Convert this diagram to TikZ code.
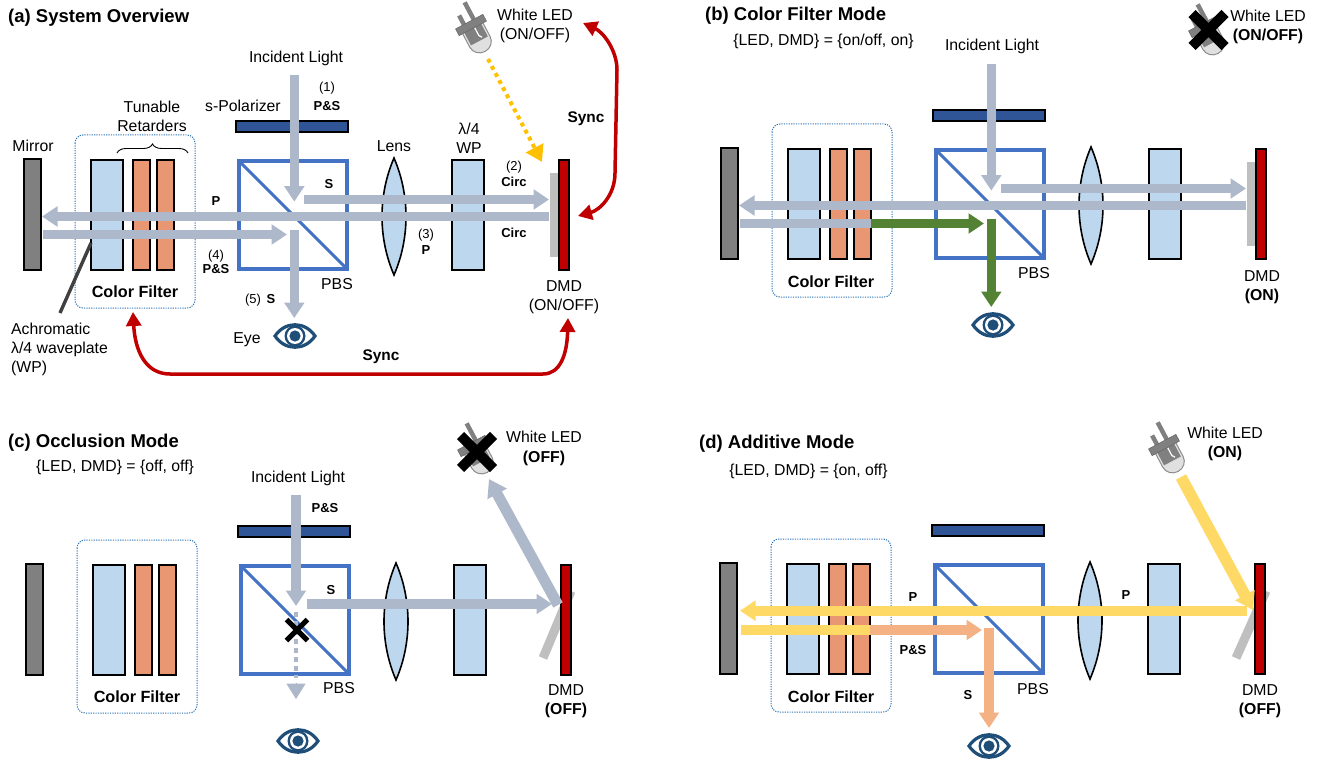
\documentclass[tikz,border=0pt]{standalone}
\usepackage{fontspec}
\setmainfont{Liberation Sans}
\usetikzlibrary{arrows.meta,decorations.pathreplacing}
\definecolor{beamgray}{HTML}{ADB9CA}
\definecolor{beamgreen}{HTML}{548235}
\definecolor{beamyellow}{HTML}{FFD966}
\definecolor{beamorange}{HTML}{F4B183}
\definecolor{ledyellow}{HTML}{FFC000}
\definecolor{syncred}{HTML}{C00000}
\definecolor{wpblue}{HTML}{BDD7EE}
\definecolor{retarder}{HTML}{E99773}
\definecolor{mirrorgray}{HTML}{808080}
\definecolor{flipgray}{HTML}{BFBFBF}
\definecolor{pbsblue}{HTML}{4472C4}
\definecolor{polblue}{HTML}{2F5597}
\definecolor{boxblue}{HTML}{2E75B6}
\definecolor{eyeblue}{HTML}{1F4E79}
\tikzset{
  x=1pt,y=-1pt,
  part/.style={draw=black,line width=1.6pt},
  fatbeam/.style={line width=9.6pt,-{Triangle[length=15.5pt 0 0,width=19.5pt 0 0]}},
  plainbeam/.style={line width=9.6pt},
  slantbeam/.style={line width=10.8pt,-{Triangle[length=17pt 0 0,width=21pt 0 0]}},
  syncline/.style={draw=syncred,line width=3.5pt},
  txt/.style={inner sep=0pt,align=center,font=\fontsize{15.8}{19.3}\selectfont},
  txtleft/.style={inner sep=0pt,align=left,font=\fontsize{15.8}{19}\selectfont},
  ttl/.style={inner sep=0pt,anchor=base west,font=\fontsize{18.5}{22}\selectfont\bfseries},
  cfl/.style={inner sep=0pt,font=\fontsize{16.2}{19}\selectfont\bfseries},
  num/.style={inner sep=0pt,align=center,font=\fontsize{13}{15}\selectfont},
  pol/.style={inner sep=0pt,align=center,font=\fontsize{13}{15}\selectfont\bfseries},
  syn/.style={inner sep=0pt,font=\fontsize{15.4}{18}\selectfont\bfseries},
  eqn/.style={inner sep=0pt,font=\fontsize{15.8}{18}\selectfont},
}
% optical train, in the coordinates of panel (a)
\newcommand{\optics}{%
  \draw[part,fill=mirrorgray] (24,159) rectangle (41,270);
  \draw[draw=boxblue,line width=1pt,dash pattern=on 1.2pt off 1.2pt,rounded corners=8pt] (75,135) rectangle (195,308);
  \draw[part,fill=wpblue] (91,160) rectangle (123,270);
  \draw[part,fill=retarder] (133,160) rectangle (150,270);
  \draw[part,fill=retarder] (157,160) rectangle (174,270);
  \draw[draw=pbsblue,line width=3.5pt] (239,161) rectangle (347,269);
  \draw[draw=pbsblue,line width=3pt] (239,161) -- (347,269);
  \draw[part,fill=wpblue!60!white,draw=none] (0,0) -- (0,0);
  \draw[part,fill=polblue] (236,121) rectangle (348,132);
  \draw[part,fill=wpblue] (394,158) .. controls (378,195) and (378,238) .. (394,275) .. controls (410,238) and (410,195) .. (394,158) -- cycle;
  \draw[part,fill=wpblue] (452,160) rectangle (484,270);
  \draw[part,fill=syncred] (559,160) rectangle (569,270);
}
\newcommand{\flatflip}{\fill[flipgray] (550,173) rectangle (559,257);}
% LED lamp: origin on the collar
\newcommand{\lamp}[2]{%
  \begin{scope}[shift={(#1,#2)},rotate=28]
    \draw[draw=mirrorgray,line width=4.5pt] (5,0) -- (5,-23);
    \draw[draw=mirrorgray,line width=4.5pt] (-6,0) -- (-6,-14);
    \path[fill=black!12,draw=black!45,line width=1pt] (-11.5,3) -- (-11.5,19) arc[start angle=180,end angle=360,x radius=11.5,y radius=-11] -- (11.5,3) -- cycle;
    \fill[mirrorgray] (-9.5,3) -- (-9.5,18) -- (9.5,18) -- (9.5,3) -- cycle;
    \draw[draw=white,line width=1.2pt] (2,4) -- (2,13) -- (4,16);
    \draw[fill=mirrorgray,draw=black!60,line width=0.5pt] (-15.5,-3.8) rectangle (15.5,3.8);
  \end{scope}}
\newcommand{\eye}[2]{%
  \begin{scope}[shift={(#1,#2)}]
    \draw[draw=eyeblue,line width=3.2pt,fill=white] (-20,0) .. controls (-10,-15) and (10,-15) .. (20,0) .. controls (10,15) and (-10,15) .. (-20,0) -- cycle;
    \fill[eyeblue] (0,0) circle[radius=10.5];
    \fill[white] (0,0) circle[radius=8];
    \fill[eyeblue] (0,0) circle[radius=5.6];
  \end{scope}}
\newcommand{\crossout}[4]{\draw[line width=#4pt,draw=black] (#1-#3,#2-#3) -- (#1+#3,#2+#3) (#1+#3,#2-#3) -- (#1-#3,#2+#3);}
\begin{document}
\begin{tikzpicture}
\useasboundingbox (0,0) rectangle (1323,762);
% ---------- panel (a)
\flatflip
\optics
\lamp{471}{25}
\eye{295}{336}
\draw[draw=black,line width=0.9pt,decorate,decoration={brace,amplitude=9pt}] (117,153) -- (188,153);
\draw[draw=black!75,line width=3.4pt] (91,243) -- (60,313);
\draw[beamgray,fatbeam] (294.3,75) -- (294.3,201.6);
\draw[beamgray,fatbeam] (304,199.5) -- (549,199.5);
\draw[beamgray,fatbeam] (549,216.5) -- (42,216.5);
\draw[beamgray,fatbeam] (43,234.5) -- (287,234.5);
\draw[beamgray,fatbeam] (294.3,230) -- (294.3,318);
\draw[ledyellow,line width=4pt,dash pattern=on 4pt off 4pt,-{Triangle[length=16pt 0 0,width=19pt 0 0]}] (488,59) -- (542,162);
\draw[syncline,{Triangle[length=14pt 0 0,width=15pt 0 0]}-{Triangle[length=14pt 0 0,width=15pt 0 0]}] (583,23) .. controls (603,32) and (617,50) .. (617,70) -- (615,173) .. controls (615,195) and (600,210) .. (578,216);
\draw[syncline,{Triangle[length=14pt 0 0,width=15pt 0 0]}-{Triangle[length=14pt 0 0,width=15pt 0 0]}] (133,312) .. controls (135,350) and (145,374) .. (170,374) -- (543,374) .. controls (560,374) and (567,355) .. (568,318);
\node[ttl] (atitle) at (8,22.5) {(a) System Overview};
\node[txt] (aincident) at (296,58) {Incident Light};
\node[num] (a1) at (327,88) {(1)};
\node[pol] (aps) at (327,106) {P\&S};
\node[txt] (apolarizer) at (243,106) {s-Polarizer};
\node[txt] (aretarders) at (152,116.5) {Tunable\\Retarders};
\node[txt] (amirror) at (33,146) {Mirror};
\node[pol] (ap) at (216,201) {P};
\node[pol] (as) at (329,184) {S};
\node[num] (a2) at (514,167) {(2)};
\node[pol] (acirc) at (514,182) {Circ};
\node[pol] (acircb) at (514,233) {Circ};
\node[num] (a3) at (426,235) {(3)};
\node[pol] (ap3) at (426,250) {P};
\node[txt] (awp) at (469,138.5) {λ/4\\WP};
\node[txt] (alens) at (394,146) {Lens};
\node[txt] (aled) at (535,26) {White LED\\(ON/OFF)};
\node[syn] (async) at (586,119) {Sync};
\node[txt] (admd) at (564,297) {DMD\\(ON/OFF)};
\node[syn] (asyncb) at (381,357) {Sync};
\node[num] (a4) at (216,256) {(4)};
\node[pol] (aps4) at (216,269) {P\&S};
\node[num] (a5) at (253,300) {(5)};
\node[pol] (as5) at (271,299.5) {S};
\node[txt] (apbs) at (337,284) {PBS};
\node[txt] (aeye) at (247,340) {Eye};
\node[cfl] (acf) at (135,292) {Color Filter};
\node[txtleft,anchor=west] (awpl) at (11,349) {Achromatic\\λ/4 waveplate\\(WP)};
% ---------- panel (b)
\begin{scope}[shift={(697,-11)}]
\flatflip
\optics
\draw[beamgray,fatbeam] (294.3,75) -- (294.3,201.6);
\draw[beamgray,fatbeam] (304,199.5) -- (549,199.5);
\draw[beamgray,fatbeam] (549,216.5) -- (42,216.5);
\draw[beamgray,plainbeam] (43,234.5) -- (174.5,234.5);
\draw[beamgreen,fatbeam] (174,234.5) -- (287,234.5);
\draw[beamgreen,fatbeam] (294.3,230) -- (294.3,318);
\end{scope}
\lamp{1204}{27}
\crossout{1208.5}{30}{16.5}{10}
\eye{993}{325}
\node[ttl] (btitle) at (705,20.5) {(b) Color Filter Mode};
\node[eqn] (beq) at (823.5,41) {\{LED, DMD\} = \{on/off, on\}};
\node[txt] (bincident) at (992,46) {Incident Light};
\node[txt] (bled) at (1268,27) {White LED\\\textbf{(ON/OFF)}};
\node[txt] (bdmd) at (1262,287) {DMD\\\textbf{(ON)}};
\node[txt] (bpbs) at (1034,273) {PBS};
\node[cfl] (bcf) at (831,281.5) {Color Filter};
% ---------- panel (c)
\draw[flipgray,line width=9pt] (543,658) -- (571,591);
\begin{scope}[shift={(2,405)}]
\optics
\end{scope}
\lamp{473}{446}
\crossout{477}{452}{16.5}{10}
\eye{298}{741}
\draw[beamgray,fatbeam] (296,495) -- (296,606);
\draw[beamgray,fatbeam] (307,604) -- (552,604);
\draw[beamgray,slantbeam] (558,605) -- (489,479);
\draw[beamgray,line width=4.5pt,dash pattern=on 4.5pt off 4.5pt] (296,612) -- (296,678);
\draw[beamgray,fatbeam,line width=0pt] (296,683) -- (296,699);
\crossout{297}{630}{10.5}{5}
\node[ttl] (ctitle) at (8,447) {(c) Occlusion Mode};
\node[eqn] (ceq) at (115,467) {\{LED, DMD\} = \{off, off\}};
\node[txt] (cincident) at (298,478) {Incident Light};
\node[pol] (cps) at (325,508) {P\&S};
\node[pol] (cs) at (331,590) {S};
\node[txt] (cled) at (544,448.5) {White LED\\\textbf{(OFF)}};
\node[txt] (cdmd) at (566,701.5) {DMD\\\textbf{(OFF)}};
\node[txt] (cpbs) at (339,688) {PBS};
\node[cfl] (ccf) at (137,696.5) {Color Filter};
% ---------- panel (d)
\draw[flipgray,line width=9pt] (1236,658) -- (1266,591);
\begin{scope}[shift={(696,404)}]
\optics
\end{scope}
\lamp{1164}{445}
\eye{989}{746}
\draw[beamyellow,line width=11.5pt,-{Triangle[length=17pt 0 0,width=21pt 0 0]}] (1181,477) -- (1253,610);
\draw[beamyellow,fatbeam] (1247,610.7) -- (740,610.7);
\draw[beamyellow,plainbeam] (741,630) -- (870.5,630);
\draw[beamorange,fatbeam] (870,630) -- (982,630);
\draw[beamorange,fatbeam] (989,628) -- (989,728);
\node[ttl] (dtitle) at (699,448) {(d) Additive Mode};
\node[eqn] (deq) at (808.5,471) {\{LED, DMD\} = \{on, off\}};
\node[txt] (dled) at (1225,444) {White LED\\\textbf{(ON)}};
\node[txt] (ddmd) at (1260,701.5) {DMD\\\textbf{(OFF)}};
\node[txt] (dpbs) at (1033,689) {PBS};
\node[cfl] (dcf) at (831,696.5) {Color Filter};
\node[pol] (dp) at (913,597) {P};
\node[pol] (dpr) at (1126,595) {P};
\node[pol] (dps) at (913,650) {P\&S};
\node[pol] (ds) at (968,695) {S};
\end{tikzpicture}
\end{document}
